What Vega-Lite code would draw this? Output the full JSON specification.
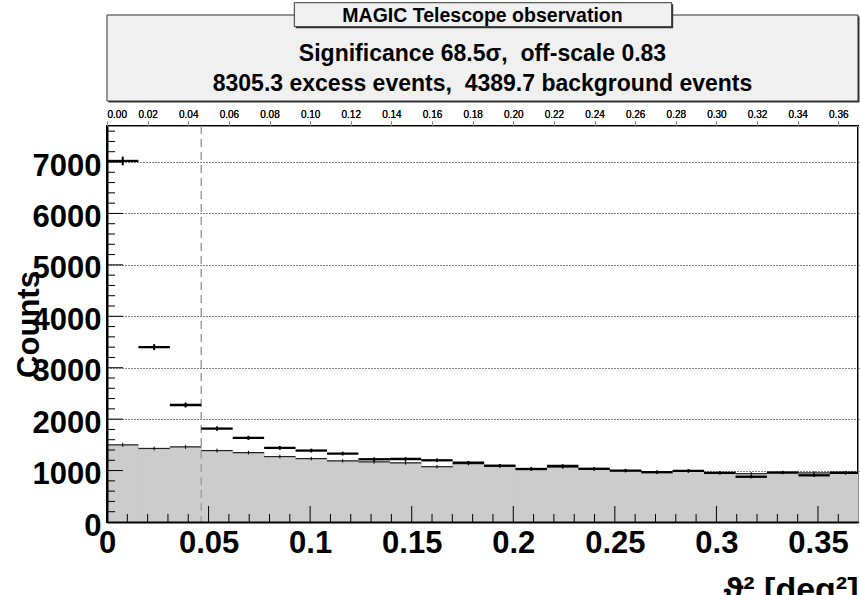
{
  "$schema": "https://vega.github.io/schema/vega-lite/v6.json",
  "autosize": {"type": "pad"},
  "padding": {"left": 12, "top": 2, "right": 0, "bottom": 0},
  "background": "white",
  "config": {"view": {"stroke": null}, "font": "Liberation Sans"},
  "spacing": 5,
  "vconcat": [
    {
      "width": 751,
      "height": 86,
      "resolve": {"scale": {"y": "independent"}},
      "layer": [
        {
          "data": {"values": [{"box": "pave"}]},
          "mark": {"type": "rect", "fill": "#333333", "clip": false},
          "encoding": {
            "x": {"datum": 0.002, "type": "quantitative", "scale": {"domain": [0, 1]}, "axis": null},
            "x2": {"datum": 1.002},
            "y": {"datum": -0.0174, "type": "quantitative", "scale": {"domain": [0, 1]}, "axis": null},
            "y2": {"datum": 0.9826}
          }
        },
        {
          "data": {"values": [{"box": "pave"}]},
          "mark": {"type": "rect", "fill": "#f0f0f0", "stroke": "#333333", "strokeWidth": 1, "clip": false},
          "encoding": {
            "x": {"datum": 0, "type": "quantitative", "scale": {"domain": [0, 1]}, "axis": null},
            "x2": {"datum": 1},
            "y": {"datum": 0, "type": "quantitative", "scale": {"domain": [0, 1]}, "axis": null},
            "y2": {"datum": 1}
          }
        },
        {
          "data": {"values": [{"box": "title"}]},
          "mark": {"type": "rect", "fill": "#333333", "clip": false},
          "encoding": {
            "x": {"datum": 0.2514, "type": "quantitative", "scale": {"domain": [0, 1]}, "axis": null},
            "x2": {"datum": 0.7539},
            "y": {"datum": 0.8466, "type": "quantitative", "scale": {"domain": [0, 1]}, "axis": null},
            "y2": {"datum": 1.1256}
          }
        },
        {
          "data": {"values": [{"box": "title"}]},
          "mark": {"type": "rect", "fill": "#f0f0f0", "stroke": "#333333", "strokeWidth": 1, "clip": false},
          "encoding": {
            "x": {"datum": 0.2494, "type": "quantitative", "scale": {"domain": [0, 1]}, "axis": null},
            "x2": {"datum": 0.7519},
            "y": {"datum": 0.864, "type": "quantitative", "scale": {"domain": [0, 1]}, "axis": null},
            "y2": {"datum": 1.143}
          }
        },
        {
          "data": {"values": [{"title": "MAGIC Telescope observation"}]},
          "mark": {"type": "text", "align": "center", "baseline": "alphabetic", "font": "Liberation Sans", "fontWeight": "bold", "fontSize": 19.5, "color": "black", "clip": false},
          "encoding": {
            "x": {"datum": 0.5, "type": "quantitative", "scale": {"domain": [0, 1]}, "axis": null},
            "y": {"datum": 0.922, "type": "quantitative", "scale": {"domain": [0, 1]}, "axis": null},
            "text": {"field": "title"}
          }
        },
        {
          "data": {"values": [
            {"txt": "Significance 68.5σ,\u00a0 off-scale 0.83", "ln": 1},
            {"txt": "8305.3 excess events,\u00a0 4389.7 background events", "ln": 2}
          ]},
          "mark": {"type": "text", "align": "center", "baseline": "alphabetic", "font": "Liberation Sans", "fontWeight": "bold", "fontSize": 23, "color": "black"},
          "encoding": {
            "x": {"datum": 0.5, "type": "quantitative", "scale": {"domain": [0, 1]}, "axis": null},
            "y": {"field": "ln", "type": "ordinal", "scale": {"type": "point", "range": [45.5, 75.5], "padding": 0}, "axis": null},
            "text": {"field": "txt"}
          }
        }
      ]
    },
    {
      "width": 751,
      "height": 396,
      "view": {"stroke": "black", "strokeWidth": 2},
      "data": {"values": [
        {"x0": 0.0, "x1": 0.01547, "xc": 0.00774, "on": 7020, "on_err": 84, "off": 1500, "off_err": 39},
        {"x0": 0.01547, "x1": 0.03094, "xc": 0.02321, "on": 3400, "on_err": 58, "off": 1430, "off_err": 38},
        {"x0": 0.03094, "x1": 0.04641, "xc": 0.03868, "on": 2275, "on_err": 48, "off": 1460, "off_err": 38},
        {"x0": 0.04641, "x1": 0.06188, "xc": 0.05415, "on": 1816, "on_err": 43, "off": 1389, "off_err": 37},
        {"x0": 0.06188, "x1": 0.07735, "xc": 0.06962, "on": 1636, "on_err": 40, "off": 1350, "off_err": 37},
        {"x0": 0.07735, "x1": 0.09282, "xc": 0.08509, "on": 1441, "on_err": 38, "off": 1272, "off_err": 36},
        {"x0": 0.09282, "x1": 0.10829, "xc": 0.10056, "on": 1389, "on_err": 37, "off": 1233, "off_err": 35},
        {"x0": 0.10829, "x1": 0.12376, "xc": 0.11603, "on": 1331, "on_err": 36, "off": 1189, "off_err": 34},
        {"x0": 0.12376, "x1": 0.13923, "xc": 0.1315, "on": 1220, "on_err": 35, "off": 1169, "off_err": 34},
        {"x0": 0.13923, "x1": 0.1547, "xc": 0.14697, "on": 1225, "on_err": 35, "off": 1150, "off_err": 34},
        {"x0": 0.1547, "x1": 0.17017, "xc": 0.16244, "on": 1200, "on_err": 35, "off": 1075, "off_err": 33},
        {"x0": 0.17017, "x1": 0.18564, "xc": 0.17791, "on": 1155, "on_err": 34, "off": 1135, "off_err": 34},
        {"x0": 0.18564, "x1": 0.20111, "xc": 0.19338, "on": 1095, "on_err": 33, "off": 1085, "off_err": 33},
        {"x0": 0.20111, "x1": 0.21658, "xc": 0.20885, "on": 1030, "on_err": 32, "off": 1040, "off_err": 32},
        {"x0": 0.21658, "x1": 0.23205, "xc": 0.22432, "on": 1090, "on_err": 33, "off": 1065, "off_err": 33},
        {"x0": 0.23205, "x1": 0.24752, "xc": 0.23979, "on": 1035, "on_err": 32, "off": 1030, "off_err": 32},
        {"x0": 0.24752, "x1": 0.26299, "xc": 0.25526, "on": 1000, "on_err": 32, "off": 1000, "off_err": 32},
        {"x0": 0.26299, "x1": 0.27846, "xc": 0.27073, "on": 968, "on_err": 31, "off": 975, "off_err": 31},
        {"x0": 0.27846, "x1": 0.29393, "xc": 0.2862, "on": 995, "on_err": 32, "off": 990, "off_err": 32},
        {"x0": 0.29393, "x1": 0.3094, "xc": 0.30167, "on": 955, "on_err": 31, "off": 960, "off_err": 31},
        {"x0": 0.3094, "x1": 0.32487, "xc": 0.31714, "on": 880, "on_err": 30, "off": 940, "off_err": 31},
        {"x0": 0.32487, "x1": 0.34034, "xc": 0.33261, "on": 962, "on_err": 31, "off": 965, "off_err": 31},
        {"x0": 0.34034, "x1": 0.35581, "xc": 0.34808, "on": 908, "on_err": 30, "off": 955, "off_err": 31},
        {"x0": 0.35581, "x1": 0.37128, "xc": 0.36355, "on": 958, "on_err": 31, "off": 952, "off_err": 31}
      ]},
      "resolve": {"axis": {"x": "independent", "y": "independent"}},
      "layer": [
        {
          "mark": {"type": "rect", "fill": "#cccccc", "stroke": "#cccccc", "strokeWidth": 1, "clip": true},
          "encoding": {
            "x": {
              "field": "x0", "type": "quantitative",
              "scale": {"domain": [0, 0.3697], "nice": false, "zero": false},
              "axis": {
                "orient": "bottom", "values": [0, 0.05, 0.1, 0.15, 0.2, 0.25, 0.3, 0.35], "format": "~g",
                "labelFont": "Liberation Sans", "labelFontSize": 31, "labelFontWeight": "bold", "labelColor": "black",
                "labelPadding": 6.5, "labelFlush": false, "labelOverlap": false, "labelBaseline": "top",
                "ticks": false, "domain": false, "grid": false,
                "title": "ϑ² [deg²]", "titleFont": "Liberation Sans", "titleFontSize": 34, "titleFontWeight": "bold", "titleColor": "black",
                "titleAlign": "right", "titleAnchor": null, "titleX": 751, "titleY": 78, "titleBaseline": "alphabetic", "zindex": 0
              }
            },
            "x2": {"field": "x1"},
            "y": {
              "field": "off", "type": "quantitative",
              "scale": {"domain": [0, 7700], "nice": false, "zero": true},
              "axis": {
                "orient": "left", "values": [0, 1000, 2000, 3000, 4000, 5000, 6000, 7000], "format": "d",
                "labelFont": "Liberation Sans", "labelFontSize": 31, "labelFontWeight": "bold", "labelColor": "black",
                "labelPadding": 6, "labelOffset": 4, "labelBaseline": "middle", "labelOverlap": false,
                "ticks": false, "domain": false,
                "grid": true, "gridColor": "black", "gridDash": [1, 2], "gridWidth": 1, "gridOpacity": 1,
                "title": "Counts", "titleFont": "Liberation Sans", "titleFontSize": 31, "titleFontWeight": "bold", "titleColor": "black",
                "titleAngle": -90, "titleAlign": "center", "titleBaseline": "alphabetic", "titleAnchor": null, "titleX": -69, "titleY": 198, "zindex": 0
              }
            },
            "y2": {"datum": 0}
          }
        },
        {
          "mark": {"type": "rule", "color": "#222222", "strokeWidth": 1.2, "clip": true},
          "encoding": {
            "x": {
              "field": "x0", "type": "quantitative",
              "axis": {"orient": "bottom", "ticks": false, "labels": false, "domain": true, "domainColor": "black", "domainWidth": 2, "grid": false, "title": null, "zindex": 1}
            },
            "x2": {"field": "x1"},
            "y": {
              "field": "off", "type": "quantitative",
              "axis": {"orient": "left", "ticks": false, "labels": false, "domain": true, "domainColor": "black", "domainWidth": 2, "grid": false, "title": null, "zindex": 1}
            }
          }
        },
        {
          "mark": {"type": "errorbar", "color": "black", "thickness": 1},
          "encoding": {
            "x": {"field": "xc", "type": "quantitative", "axis": null},
            "y": {"field": "off", "type": "quantitative", "axis": null},
            "yError": {"field": "off_err"}
          }
        },
        {
          "data": {"values": [
            {"t": 0.01}, {"t": 0.02}, {"t": 0.03}, {"t": 0.04}, {"t": 0.06}, {"t": 0.07}, {"t": 0.08}, {"t": 0.09},
            {"t": 0.11}, {"t": 0.12}, {"t": 0.13}, {"t": 0.14}, {"t": 0.16}, {"t": 0.17}, {"t": 0.18}, {"t": 0.19},
            {"t": 0.21}, {"t": 0.22}, {"t": 0.23}, {"t": 0.24}, {"t": 0.26}, {"t": 0.27}, {"t": 0.28}, {"t": 0.29},
            {"t": 0.31}, {"t": 0.32}, {"t": 0.33}, {"t": 0.34}, {"t": 0.36}
          ]},
          "mark": {"type": "rule", "color": "black", "strokeWidth": 1},
          "encoding": {
            "x": {"field": "t", "type": "quantitative", "axis": null},
            "y": {"datum": 0},
            "y2": {"datum": 156}
          }
        },
        {
          "data": {"values": [
            {"t": 0.05}, {"t": 0.1}, {"t": 0.15}, {"t": 0.2}, {"t": 0.25}, {"t": 0.3}, {"t": 0.35}
          ]},
          "mark": {"type": "rule", "color": "black", "strokeWidth": 1},
          "encoding": {
            "x": {"field": "t", "type": "quantitative", "axis": null},
            "y": {"datum": 0},
            "y2": {"datum": 311}
          }
        },
        {
          "data": {"values": [
            {"c": 200}, {"c": 400}, {"c": 600}, {"c": 800}, {"c": 1200}, {"c": 1400}, {"c": 1600}, {"c": 1800},
            {"c": 2200}, {"c": 2400}, {"c": 2600}, {"c": 2800}, {"c": 3200}, {"c": 3400}, {"c": 3600}, {"c": 3800},
            {"c": 4200}, {"c": 4400}, {"c": 4600}, {"c": 4800}, {"c": 5200}, {"c": 5400}, {"c": 5600}, {"c": 5800},
            {"c": 6200}, {"c": 6400}, {"c": 6600}, {"c": 6800}, {"c": 7200}, {"c": 7400}, {"c": 7600}
          ]},
          "mark": {"type": "rule", "color": "black", "strokeWidth": 1},
          "encoding": {
            "y": {"field": "c", "type": "quantitative", "axis": null},
            "x": {"datum": 0},
            "x2": {"datum": 0.00394}
          }
        },
        {
          "data": {"values": [
            {"c": 1000}, {"c": 2000}, {"c": 3000}, {"c": 4000}, {"c": 5000}, {"c": 6000}, {"c": 7000}
          ]},
          "mark": {"type": "rule", "color": "black", "strokeWidth": 1},
          "encoding": {
            "y": {"field": "c", "type": "quantitative", "axis": null},
            "x": {"datum": 0},
            "x2": {"datum": 0.00788}
          }
        },
        {
          "data": {"values": [{"cut": 0.0464}]},
          "mark": {"type": "rule", "color": "#a0a0a0", "strokeWidth": 1.5, "strokeDash": [8, 5]},
          "encoding": {
            "x": {"field": "cut", "type": "quantitative", "axis": null}
          }
        },
        {
          "mark": {"type": "rule", "color": "black", "strokeWidth": 2.3, "clip": true},
          "encoding": {
            "x": {"field": "x0", "type": "quantitative", "axis": null},
            "x2": {"field": "x1"},
            "y": {"field": "on", "type": "quantitative", "axis": null}
          }
        },
        {
          "mark": {"type": "errorbar", "color": "black", "thickness": 2},
          "encoding": {
            "x": {"field": "xc", "type": "quantitative", "axis": null},
            "y": {"field": "on", "type": "quantitative", "axis": null},
            "yError": {"field": "on_err"}
          }
        }
      ]
    }
  ]
}
